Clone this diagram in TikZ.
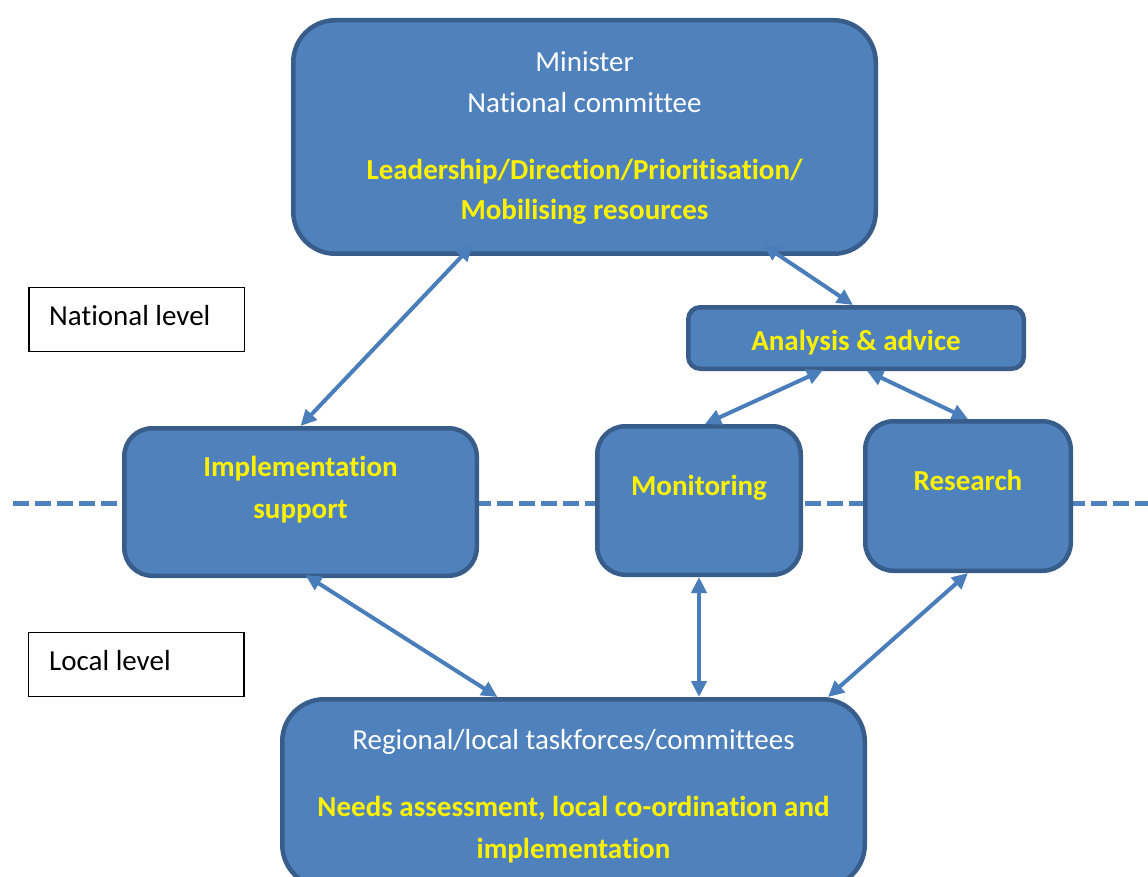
\documentclass[tikz,border=0pt]{standalone}
\usepackage{fontspec}
\setmainfont{Carlito}[Ligatures=NoCommon]
\usetikzlibrary{arrows.meta,calc}

\definecolor{boxblue}{HTML}{4F81BD}
\definecolor{boxedge}{HTML}{385D8A}
\definecolor{linkblue}{HTML}{4A7EBB}

\begin{document}
\begin{tikzpicture}[
        x=1pt, y=-1pt,
        every node/.style={font=\fontsize{29}{35}\selectfont},
        unit/.style={rectangle, draw=boxedge, line width=4.5pt, fill=boxblue, inner sep=0pt},
        head/.style={text=white, anchor=base, inner sep=0pt},
        task/.style={text=yellow, font=\fontsize{29}{35}\selectfont\bfseries, anchor=base, inner sep=0pt},
        tag/.style={rectangle, draw=black, line width=1.5pt, fill=white, minimum width=215.5pt, minimum height=64pt},
        tagtext/.style={text=black, anchor=base west, inner sep=0pt},
        link/.style={{Triangle[length=16pt,width=15pt]}-{Triangle[length=16pt,width=15pt]}, linkblue, line width=4pt},
        levelline/.style={boxblue, line width=5pt, dash pattern=on 16pt off 6pt}
    ]
        \useasboundingbox (0,0) rectangle (1148,877);

        % Level divider
        \coordinate (divL) at (13,503);
        \coordinate (divR) at (1160,503);
        \draw[levelline] (divL) -- (divR);

        % Level tags
        \node[tag] (national) at (136.5,319.5) {};
        \node[tagtext] (national-l1) at (49,325) {National level};
        \node[tag] (local) at (136,664.5) {};
        \node[tagtext] (local-l1) at (49,670) {Local level};

        % National committee
        \node[unit, rounded corners=42pt, minimum width=582.5pt, minimum height=233.5pt] (top) at (584.5,137) {};
        \node[head] (top-l1) at (584.5,72) {Minister};
        \node[head] (top-l2) at (584.5,113) {National committee};
        \node[task] (top-l3) at (584.5,180) {Leadership/Direction/Prioritisation/};
        \node[task] (top-l4) at (584.5,220) {Mobilising resources};

        % Analysis
        \node[unit, rounded corners=12pt, minimum width=335.5pt, minimum height=61.5pt] (analysis) at (856,338) {};
        \node[task] (analysis-l1) at (856,350) {Analysis \& advice};

        % Middle row
        \node[unit, rounded corners=28pt, minimum width=352.5pt, minimum height=147.5pt] (impl) at (300.5,502) {};
        \node[task] (impl-l1) at (300.5,476) {Implementation};
        \node[task] (impl-l2) at (300.5,518) {support};

        \node[unit, rounded corners=28pt, minimum width=203.5pt, minimum height=148.5pt] (monitoring) at (699,500.5) {};
        \node[task] (monitoring-l1) at (699,495) {Monitoring};

        \node[unit, rounded corners=28pt, minimum width=205.5pt, minimum height=149.5pt] (research) at (968,496) {};
        \node[task] (research-l1) at (968,490) {Research};

        % Local taskforces
        \node[unit, rounded corners=42pt, minimum width=582.5pt, minimum height=187.5pt] (bottom) at (573.5,793) {};
        \node[head] (bottom-l1) at (573.5,749) {Regional/local taskforces/committees};
        \node[task] (bottom-l2) at (573.5,816) {Needs assessment, local co-ordination and};
        \node[task] (bottom-l3) at (573.5,858) {implementation};

        % Links
        \draw[link] ($(top.south)+(-112,-11)$) -- (impl.north);
        \draw[link] ($(top.south)+(179,-11)$) -- ($(analysis.north)+(-3,0)$);
        \draw[link] ($(analysis.south)+(-33,-1)$) -- ($(monitoring.north)+(6,0)$);
        \draw[link] ($(analysis.south)+(11,0)$) -- (research.north);
        \draw[link] ($(impl.south)+(5,-3)$) -- ($(bottom.north)+(-76,0)$);
        \draw[link] (monitoring.south) -- (monitoring.south |- bottom.north);
        \draw[link] (research.south) -- ($(bottom.north)+(254.5,0)$);

    \end{tikzpicture}
\end{document}
